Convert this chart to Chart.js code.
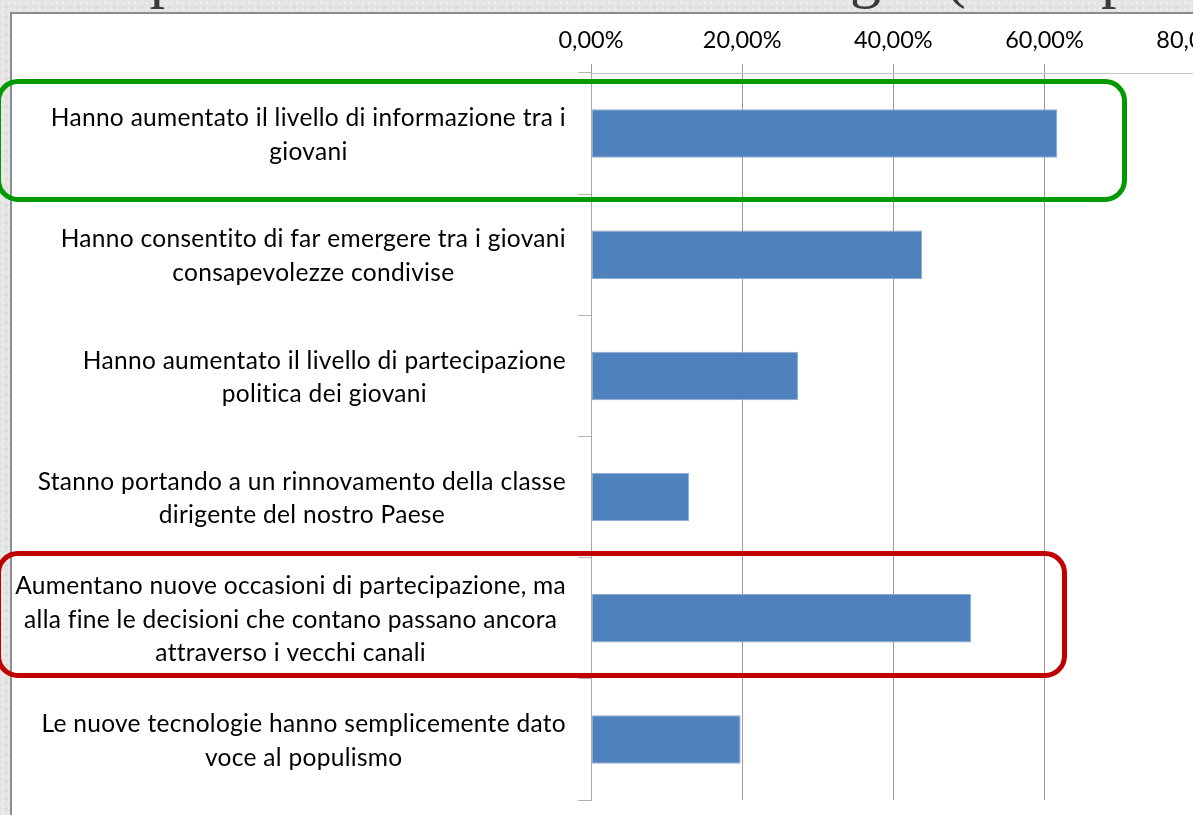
<!DOCTYPE html>
<html>
<head>
<meta charset="utf-8">
<script src="https://cdn.jsdelivr.net/npm/chart.js@4.4.1/dist/chart.umd.min.js"></script>
<style>
html,body{margin:0;padding:0;width:1193px;height:815px;overflow:hidden;}
body{background-color:#e4e4e4;background-image:radial-gradient(rgba(255,255,255,0.3) 1px,transparent 2px),radial-gradient(rgba(0,0,0,0.04) 1px,transparent 2px);background-size:6px 6px,9px 9px;background-position:0 0,2px 3px;position:relative;}
#title{position:absolute;left:104px;top:-60px;font-family:"Liberation Serif","DejaVu Serif",serif;font-size:62px;color:#3a3a3a;white-space:nowrap;letter-spacing:1px;}
#panel{position:absolute;left:10px;top:12px;width:1300px;height:900px;background:#fff;border-left:2px solid #8c8c8c;border-top:2px solid #8c8c8c;}
#wrap{position:absolute;left:0;top:0;width:1244px;height:815px;}
.box{position:absolute;border-radius:22px;box-sizing:border-box;}
#green{left:-4px;top:79px;width:1131px;height:123px;border:5px solid #009a00;}
#red{left:-4px;top:551px;width:1071px;height:127px;border:5px solid #c00000;}
</style>
</head>
<body>
<div id="title">Opinioni sulle nuove tecnologie (% risposte)</div>
<div id="panel"></div>
<div id="wrap"><canvas id="c" width="1244" height="815"></canvas></div>
<div class="box" id="green"></div>
<div class="box" id="red"></div>
<script>
const categories = [
  ["Hanno aumentato il livello di informazione tra i", "giovani"],
  ["Hanno consentito di far emergere tra i giovani", "consapevolezze condivise"],
  ["Hanno aumentato il livello di partecipazione", "politica dei giovani"],
  ["Stanno portando a un rinnovamento della classe", "dirigente del nostro Paese"],
  ["Aumentano nuove occasioni di partecipazione, ma", "alla fine le decisioni che contano passano ancora", "attraverso i vecchi canali"],
  ["Le nuove tecnologie hanno semplicemente dato", "voce al populismo"]
];
const values = [61.7, 43.8, 27.4, 13.0, 50.3, 19.8];
const xTicks = [0, 20, 40, 60, 80];

const catLabels = {
  id: 'catLabels',
  afterDraw(chart) {
    const ys = chart.scales.y, ctx = chart.ctx;
    ctx.save();
    ctx.font = '24.5px Lato';
    if ('letterSpacing' in ctx) ctx.letterSpacing = '0.3px';
    ctx.fillStyle = '#000';
    ctx.textBaseline = 'middle';
    ctx.textAlign = 'center';
    const lh = 33.5;
    const rightEdge = ys.right - 13 - 12;
    categories.forEach((lines, i) => {
      const y = ys.getPixelForTick(i) + 1.5;
      const w = Math.max(...lines.map(l => ctx.measureText(l).width));
      const cx = rightEdge - w / 2;
      lines.forEach((l, j) => ctx.fillText(l, cx, y + (j - (lines.length - 1) / 2) * lh));
    });
    ctx.restore();
  }
};

new Chart(document.getElementById('c'), {
  type: 'bar',
  data: {
    labels: categories.map(l => l.join(' ')),
    datasets: [{
      data: values,
      backgroundColor: '#4f81bd',
      borderColor: '#8eaad4',
      borderWidth: 1,
      borderSkipped: false,
      barPercentage: 0.4,
      categoryPercentage: 1
    }]
  },
  options: {
    indexAxis: 'y',
    responsive: false,
    animation: false,
    devicePixelRatio: 1,
    layout: { padding: { left: 0, top: 0, right: 43, bottom: 15 } },
    plugins: { legend: { display: false }, tooltip: { enabled: false }, title: { display: false } },
    scales: {
      x: {
        position: 'top',
        min: 0, max: 80,
        afterBuildTicks: s => { s.ticks = xTicks.map(v => ({ value: v })); },
        afterFit: s => { s.height = 73; },
        ticks: {
          callback: v => v.toFixed(2).replace('.', ',') + '%',
          font: { family: 'Lato', size: 23.5 },
          color: '#000',
          padding: 9,
          maxRotation: 0
        },
        grid: { color: '#9a9a9a', tickLength: 9, lineWidth: 1 },
        border: { color: '#c4c4c4' }
      },
      y: {
        afterFit: s => { s.width = 591; },
        ticks: { display: false },
        grid: { drawOnChartArea: false, drawTicks: true, tickLength: 13, color: '#b4b4b4', offset: true },
        border: { color: '#a8a8a8' }
      }
    }
  },
  plugins: [catLabels]
});
</script>
</body>
</html>
